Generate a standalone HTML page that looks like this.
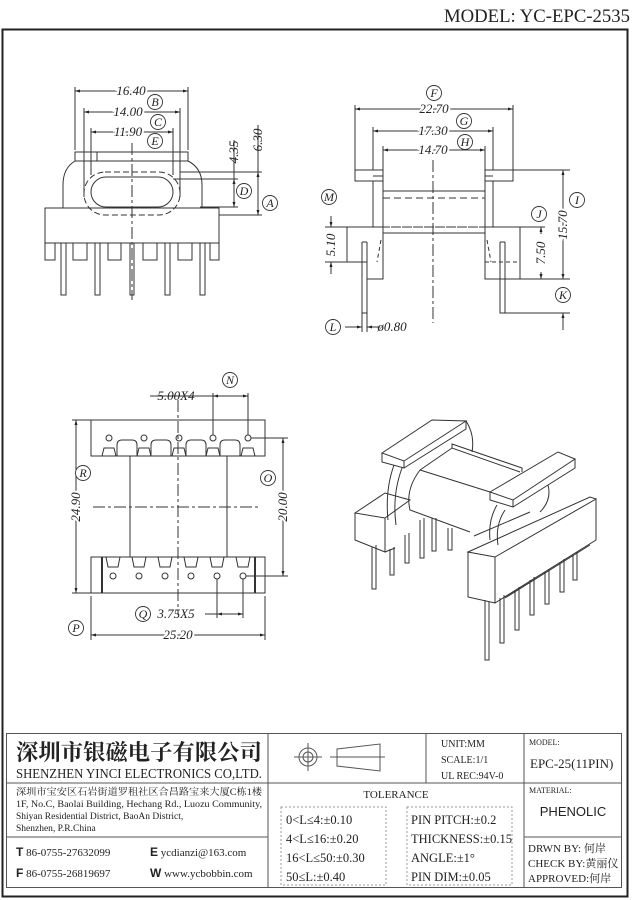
<!DOCTYPE html>
<html><head><meta charset="utf-8"><style>
body{margin:0;background:#fff}
svg{display:block}
text{font-family:"Liberation Serif","Noto Serif CJK SC",serif;fill:#222}
.d{font-family:"Liberation Sans",sans-serif;font-style:italic;font-size:13px}
.c{font-family:"Liberation Serif",serif;font-style:italic;font-size:12px}
</style></head><body>
<svg width="641" height="900" viewBox="0 0 641 900" xmlns="http://www.w3.org/2000/svg">
<defs>
<marker id="a" viewBox="0 0 10 10" refX="10" refY="5" markerWidth="7" markerHeight="5" orient="auto-start-reverse"><path d="M0,2L10,5L0,8z" fill="#222"/></marker>
</defs>
<text x="630" y="22" text-anchor="end" font-size="19" textLength="186" lengthAdjust="spacingAndGlyphs">MODEL: YC-EPC-2535</text>
<rect x="2.5" y="29.5" width="625" height="867" fill="none" stroke="#222" stroke-width="2"/>

<g fill="none" stroke="#333" stroke-width="1">
<path d="M75,150V87M188,150V87M84,197V108M180,197V108M91,175V128M173,175V128"/>
<line x1="75" y1="91" x2="188" y2="91" marker-start="url(#a)" marker-end="url(#a)"/>
<line x1="84" y1="112" x2="180" y2="112" marker-start="url(#a)" marker-end="url(#a)"/>
<line x1="91" y1="132" x2="173" y2="132" marker-start="url(#a)" marker-end="url(#a)"/>
<rect x="75" y="152" width="113" height="9"/><path d="M97,152V161"/>
<path d="M63,208V185Q63,168 75,161M202,208V185Q202,168 188,161"/>
<rect x="91" y="177" width="82" height="30" rx="15"/>
<rect x="84" y="172" width="96" height="43" rx="21" stroke-dasharray="6,3"/>
<rect x="45" y="208" width="174" height="35"/>
<path d="M45,243v17h10v-17M73,243v17h14v-17M108,243v17h13v-17M143,243v17h14v-17M178,243v17h14v-17M210,243v17h9v-17"/>
<path d="M61,243v52h5v-52M95,243v52h5v-52M165,243v52h5v-52M200,243v52h5v-52M130,243v52h4v-52"/>
<path d="M132,143V300" stroke-dasharray="12,3,3,3"/>
<path d="M180,172H262M173,179H238M200,207H238M219,215H262"/>
<line x1="234" y1="179" x2="234" y2="207" marker-start="url(#a)" marker-end="url(#a)"/>
<line x1="258" y1="172" x2="258" y2="215" marker-start="url(#a)" marker-end="url(#a)"/>
<path d="M234,179V140M258,172V125"/>

<path d="M355,170V105M513,170V105M373,170V127M493,170V127M383,170V146M485,170V146"/>
<line x1="355" y1="109" x2="513" y2="109" marker-start="url(#a)" marker-end="url(#a)"/>
<line x1="373" y1="131" x2="493" y2="131" marker-start="url(#a)" marker-end="url(#a)"/>
<line x1="383" y1="150" x2="485" y2="150" marker-start="url(#a)" marker-end="url(#a)"/>
<rect x="355" y="170" width="28" height="11"/><rect x="485" y="170" width="28" height="11"/>
<path d="M373,181V227M383,170V227M485,170V227M493,181V227M373,176H383M485,176H493"/>
<path d="M383,191H485"/><path d="M383,198H485M383,227H485" stroke-dasharray="7,4"/>
<path d="M383,233H485"/>
<path d="M347,227H383V279H367V262H347Z"/>
<path d="M485,227H520V279H485Z"/>
<path d="M347,227H520" stroke-dasharray="7,4"/>
<path d="M362,242v71h5v-71M500,242v71h5v-71"/>
<path d="M362,242h5M500,242h5"/>
<path d="M381,240L377,262M487,240L491,262M485,262H520" stroke-dasharray="4,3"/>
<path d="M433,160V323" stroke-dasharray="12,3,3,3"/>
<path d="M513,170H570M520,279H570M505,313H570M520,227H545M347,227H325M347,262H325"/>
<line x1="563" y1="170" x2="563" y2="279" marker-start="url(#a)" marker-end="url(#a)"/>
<line x1="541" y1="234" x2="541" y2="227" marker-end="url(#a)"/>
<line x1="541" y1="272" x2="541" y2="279" marker-end="url(#a)"/>
<line x1="563" y1="330" x2="563" y2="313" marker-end="url(#a)"/>
<line x1="331" y1="216" x2="331" y2="227" marker-end="url(#a)"/>
<line x1="331" y1="274" x2="331" y2="262" marker-end="url(#a)"/>
<path d="M362,313V332M367,313V332"/>
<line x1="345" y1="327" x2="362" y2="327" marker-end="url(#a)"/>
<line x1="380" y1="327" x2="367" y2="327" marker-end="url(#a)"/>

<rect x="91" y="420" width="174" height="36"/>
<path d="M117,456V445Q117,440 122,440H132Q137,440 137,445V456M151,456V445Q151,440 156,440H166Q171,440 171,445V456M186,456V445Q186,440 191,440H201Q206,440 206,445V456M220,456V445Q220,440 225,440H235Q240,440 240,445V456"/>
<path d="M102,456l2,-8h10l2,8M137,456l2,-8h10l2,8M172,456l2,-8h10l2,8M206,456l2,-8h10l2,8M241,456l2,-8h10l2,8"/>
<g><circle cx="109" cy="438" r="3"/><circle cx="144" cy="438" r="3"/><circle cx="179" cy="438" r="3"/><circle cx="213" cy="438" r="3"/><circle cx="248" cy="438" r="3"/></g>
<path d="M130,456V557M227,456V557"/>
<rect x="91" y="557" width="174" height="36"/>
<path d="M102,557V593M255,557V593" stroke-width="2"/>
<path d="M106,557l2,10h10l2,-10M132,557l2,10h10l2,-10M158,557l2,10h10l2,-10M184,557l2,10h10l2,-10M210,557l2,10h10l2,-10M236,557l2,10h10l2,-10"/>
<g><circle cx="113" cy="576" r="3"/><circle cx="139" cy="576" r="3"/><circle cx="165" cy="576" r="3"/><circle cx="191" cy="576" r="3"/><circle cx="217" cy="576" r="3"/><circle cx="243" cy="576" r="3"/></g>
<path d="M178,400V615" stroke-dasharray="12,3,3,3"/>
<path d="M93,507H260" stroke-dasharray="12,3,3,3"/>
<path d="M213,435V393M248,435V393M150,396H213M251,438H288M246,576H288M217,579V618M243,579V618M91,420H72M91,593H72M91,596V640M265,596V640"/>
<line x1="213" y1="396" x2="248" y2="396" marker-start="url(#a)" marker-end="url(#a)"/>
<line x1="283" y1="438" x2="283" y2="576" marker-start="url(#a)" marker-end="url(#a)"/>
<line x1="76" y1="420" x2="76" y2="593" marker-start="url(#a)" marker-end="url(#a)"/>
<path d="M205,614H217"/>
<line x1="217" y1="614" x2="243" y2="614" marker-start="url(#a)" marker-end="url(#a)"/>
<line x1="91" y1="635" x2="265" y2="635" marker-start="url(#a)" marker-end="url(#a)"/>

<path d="M382,453L432,420L466,421L404,461Z M382,453V462L404,468V461M404,468L466,429V421"/>
<path d="M466,421Q475,435 472,452"/>
<path d="M394,465Q385,490 388,520M402,468Q392,495 396,525"/>
<path d="M420,470L452,448L520,472M420,470L490,492M420,470Q405,490 410,510L470,532"/>
<path d="M452,448V444L522,468V472"/>
<path d="M490,492L558,452L575,459L513,500Z M490,492V500L513,507V500M513,507L575,468V459"/>
<path d="M497,505Q488,520 490,540M505,510Q495,525 498,545M540,512Q552,500 548,485"/>
<path d="M355,513L385,493L410,500L385,518Z M355,513V540L385,552V518"/>
<path d="M385,552L395,548"/>
<path d="M372,547v42h4v-44M390,549v26h4v-28M405,535v28h4v-30M420,520v38h4v-40M432,518v33h4v-33M448,528v22h4v-22"/>
<path d="M468,552L590,497L596,499L495,557L468,552Z M468,552V597L495,603V557M495,603L596,540V499"/>
<path d="M474,536L530,512M505,598L590,545"/>
<path d="M485,600v60h4v-58M500,598v45h4v-48M515,590v40h4v-43M530,580v35h4v-38M545,572v32h4v-35M560,562v30h4v-33M573,555v25h4v-28"/>
</g>

<g fill="#fff" stroke="#333" stroke-width="0.9">
<circle cx="155" cy="102" r="7.5"/><circle cx="158" cy="122" r="7.5"/><circle cx="155" cy="141" r="7.5"/>
<circle cx="244" cy="191" r="7.5"/><circle cx="270" cy="203" r="7.5"/>
<circle cx="434" cy="93" r="7.5"/><circle cx="464" cy="121" r="7.5"/><circle cx="465" cy="142" r="7.5"/>
<circle cx="329" cy="197" r="7.5"/><circle cx="539" cy="214" r="7.5"/><circle cx="577" cy="200" r="7.5"/>
<circle cx="563" cy="295" r="7.5"/><circle cx="333" cy="327" r="7.5"/>
<circle cx="230" cy="380" r="7.5"/><circle cx="268" cy="478" r="7.5"/><circle cx="83" cy="473" r="7.5"/>
<circle cx="143" cy="614" r="7.5"/><circle cx="76" cy="628" r="7.5"/>
</g>
<g class="c" text-anchor="middle">
<text x="155" y="106">B</text><text x="158" y="126">C</text><text x="155" y="145">E</text>
<text x="244" y="195">D</text><text x="270" y="207">A</text>
<text x="434" y="97">F</text><text x="464" y="125">G</text><text x="465" y="146">H</text>
<text x="329" y="201">M</text><text x="539" y="218">J</text><text x="577" y="204">I</text>
<text x="563" y="299">K</text><text x="333" y="331">L</text>
<text x="230" y="384">N</text><text x="268" y="482">O</text><text x="83" y="477">R</text>
<text x="143" y="618">Q</text><text x="76" y="632">P</text>
</g>
<g class="d" text-anchor="middle">
<text x="131" y="95" stroke="#fff" stroke-width="4" style="paint-order:stroke">16.40</text>
<text x="128" y="116" stroke="#fff" stroke-width="4" style="paint-order:stroke">14.00</text>
<text x="128" y="136" stroke="#fff" stroke-width="4" style="paint-order:stroke">11.90</text>
<text transform="translate(238,152) rotate(-90)">4.35</text>
<text transform="translate(262,140) rotate(-90)">6.30</text>
<text x="434" y="113" stroke="#fff" stroke-width="4" style="paint-order:stroke">22.70</text>
<text x="433" y="135" stroke="#fff" stroke-width="4" style="paint-order:stroke">17.30</text>
<text x="433" y="154" stroke="#fff" stroke-width="4" style="paint-order:stroke">14.70</text>
<text transform="translate(567,225) rotate(-90)" stroke="#fff" stroke-width="4" style="paint-order:stroke">15.70</text>
<text transform="translate(545,253) rotate(-90)" stroke="#fff" stroke-width="4" style="paint-order:stroke">7.50</text>
<text transform="translate(335,245) rotate(-90)">5.10</text>
<text x="392" y="331">ø0.80</text>
<text x="176" y="400">5.00X4</text>
<text transform="translate(287,507) rotate(-90)" stroke="#fff" stroke-width="4" style="paint-order:stroke">20.00</text>
<text transform="translate(80,507) rotate(-90)" stroke="#fff" stroke-width="4" style="paint-order:stroke">24.90</text>
<text x="176" y="618">3.75X5</text>
<text x="178" y="639" stroke="#fff" stroke-width="4" style="paint-order:stroke">25.20</text>
</g>

<g fill="none" stroke="#555" stroke-width="1">
<rect x="6.5" y="733.5" width="615" height="154"/>
<path d="M268,733V888M426,733V783M524,733V888M6,783H268M268,783H524M524,783H622M6,837H268M524,837H622"/>
<rect x="281" y="807" width="105" height="78" stroke-dasharray="2,2" stroke="#999"/>
<rect x="407" y="807" width="105" height="78" stroke-dasharray="2,2" stroke="#999"/>
<circle cx="308" cy="757" r="9"/><circle cx="308" cy="757" r="5"/><path d="M294,757H322M308,743V771"/>
<path d="M337,749L380,744V771L337,766Z M330,757H385"/>
</g>
<text x="16" y="760" font-size="22" font-weight="bold" textLength="246" lengthAdjust="spacingAndGlyphs" style="font-family:'Noto Serif CJK SC','Noto Sans CJK SC',serif">深圳市银磁电子有限公司</text>
<text x="16" y="778" font-size="14" textLength="246" lengthAdjust="spacingAndGlyphs">SHENZHEN YINCI ELECTRONICS CO,LTD.</text>
<g font-size="9.5">
<text x="16" y="795" textLength="246" lengthAdjust="spacingAndGlyphs">深圳市宝安区石岩街道罗租社区合昌路宝来大厦C栋1楼</text>
<text x="16" y="807" textLength="246" lengthAdjust="spacingAndGlyphs">1F, No.C, Baolai Building, Hechang Rd., Luozu Community,</text>
<text x="16" y="819">Shiyan Residential District, BaoAn District,</text>
<text x="16" y="831">Shenzhen, P.R.China</text>
</g>
<g font-size="11">
<text x="16" y="856"><tspan font-family="Liberation Sans" font-weight="bold" font-size="12">T</tspan> 86-0755-27632099</text>
<text x="16" y="877"><tspan font-family="Liberation Sans" font-weight="bold" font-size="12">F</tspan> 86-0755-26819697</text>
<text x="150" y="856"><tspan font-family="Liberation Sans" font-weight="bold" font-size="12">E</tspan> ycdianzi@163.com</text>
<text x="150" y="877"><tspan font-family="Liberation Sans" font-weight="bold" font-size="12">W</tspan> www.ycbobbin.com</text>
</g>
<g font-size="10">
<text x="441" y="747">UNIT:MM</text>
<text x="441" y="763">SCALE:1/1</text>
<text x="441" y="779">UL REC:94V-0</text>
</g>
<text x="529" y="745" font-size="8">MODEL:</text>
<text x="530" y="768" font-size="13">EPC-25(11PIN)</text>
<text x="529" y="793" font-size="8">MATERIAL:</text>
<text x="573" y="816" font-size="13" text-anchor="middle" style="font-family:'Liberation Sans',sans-serif">PHENOLIC</text>
<g font-size="11">
<text x="528" y="852">DRWN BY: 何岸</text>
<text x="528" y="867">CHECK BY:黄丽仪</text>
<text x="528" y="882">APPROVED:何岸</text>
</g>
<text x="396" y="798" font-size="11" text-anchor="middle">TOLERANCE</text>
<g font-size="12.5">
<text x="286" y="824">0&lt;L≤4:±0.10</text>
<text x="286" y="843">4&lt;L≤16:±0.20</text>
<text x="286" y="862">16&lt;L≤50:±0.30</text>
<text x="286" y="881">50≤L:±0.40</text>
<text x="411" y="824">PIN PITCH:±0.2</text>
<text x="411" y="843">THICKNESS:±0.15</text>
<text x="411" y="862">ANGLE:±1°</text>
<text x="411" y="881">PIN DIM:±0.05</text>
</g>
</svg>
</body></html>
